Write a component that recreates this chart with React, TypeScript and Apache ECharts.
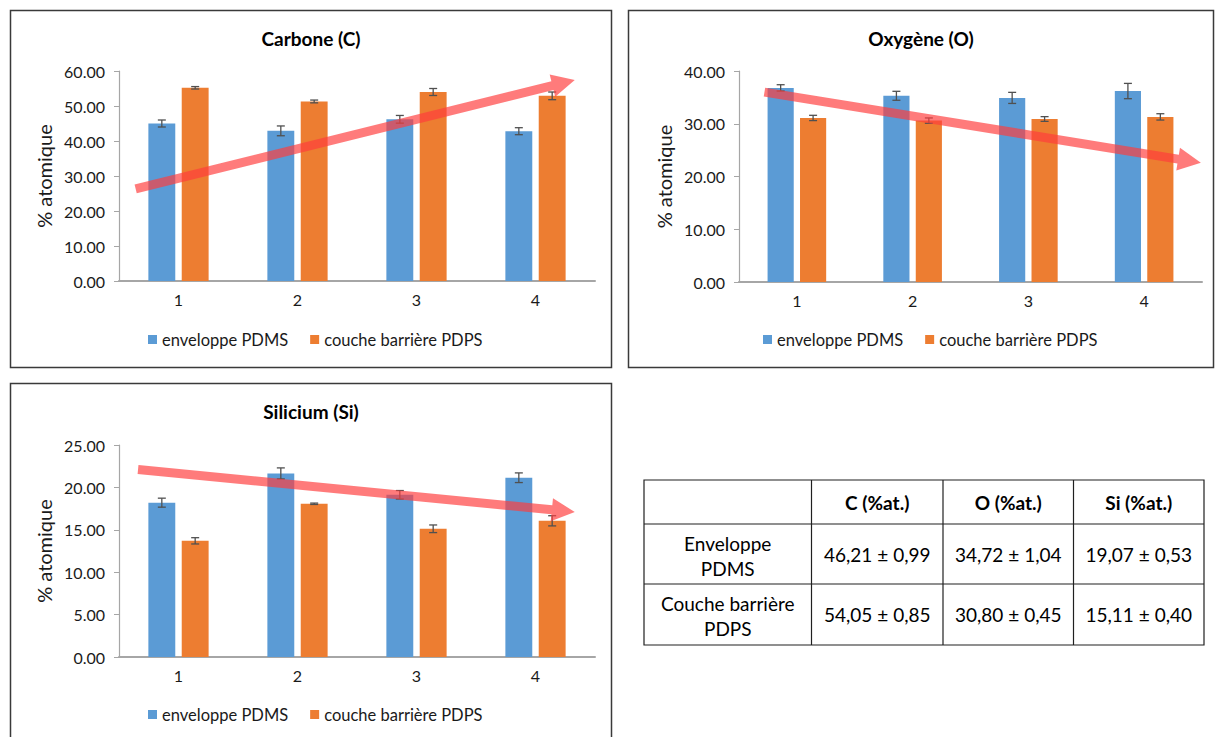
import React, { useEffect, useRef } from "react";
import * as echarts from "echarts";

const categories = ["1", "2", "3", "4"];
const seriesNames = ["enveloppe PDMS", "couche barrière PDPS"];

const carbonPDMS = [45.0, 42.9, 46.2, 42.8];
const carbonPDMSErr = [1.0, 1.4, 1.1, 1.0];
const carbonPDPS = [55.2, 51.3, 54.0, 52.9];
const carbonPDPSErr = [0.35, 0.4, 1.0, 1.1];

const oxygenPDMS = [36.8, 35.3, 34.9, 36.2];
const oxygenPDMSErr = [0.6, 0.85, 1.05, 1.45];
const oxygenPDPS = [31.1, 30.6, 30.9, 31.3];
const oxygenPDPSErr = [0.5, 0.5, 0.45, 0.6];

const siliconPDMS = [18.2, 21.65, 19.13, 21.14];
const siliconPDMSErr = [0.53, 0.65, 0.5, 0.57];
const siliconPDPS = [13.7, 18.07, 15.12, 16.06];
const siliconPDPSErr = [0.37, 0.08, 0.45, 0.6];

// trend arrows: [xStart, yStart, xTip, yTip] in category-index / value units
const carbonArrow = [-0.36, 26.3, 3.33, 57.4];
const oxygenArrow = [-0.28, 36.0, 3.49, 22.6];
const siliconArrow = [-0.34, 22.1, 3.33, 17.1];

const tableHeader = ["C (%at.)", "O (%at.)", "Si (%at.)"];
const tableRowLabels = [
  ["Enveloppe", "PDMS"],
  ["Couche barrière", "PDPS"],
];
const tableValues = [
  ["46,21 ± 0,99", "34,72 ± 1,04", "19,07 ± 0,53"],
  ["54,05 ± 0,85", "30,80 ± 0,45", "15,11 ± 0,40"],
];

const FONT = "Lato, 'Open Sans', sans-serif";
const BLUE = "#5b9bd5";
const ORANGE = "#ed7d31";
const BAR_W = 0.226;
const BAR_GAP = 0.24;
const ARROW_COLOR = "rgba(255, 60, 60, 0.68)";

const panels = [
  {
    title: "Carbone (C)",
    a: carbonPDMS, aErr: carbonPDMSErr, b: carbonPDPS, bErr: carbonPDPSErr,
    max: 60, interval: 10, arrow: carbonArrow,
    grid: { left: 119, top: 71, width: 476, height: 210 },
    box: [10, 10, 601, 357], legend: [143, 326], titleXY: [311, 38],
  },
  {
    title: "Oxygène (O)",
    a: oxygenPDMS, aErr: oxygenPDMSErr, b: oxygenPDPS, bErr: oxygenPDPSErr,
    max: 40, interval: 10, arrow: oxygenArrow,
    grid: { left: 739, top: 71, width: 463, height: 211 },
    box: [628, 10, 585, 357], legend: [758, 326], titleXY: [921, 38],
  },
  {
    title: "Silicium (Si)",
    a: siliconPDMS, aErr: siliconPDMSErr, b: siliconPDPS, bErr: siliconPDPSErr,
    max: 25, interval: 5, arrow: siliconArrow,
    grid: { left: 119, top: 445, width: 476, height: 212 },
    box: [10, 383, 601, 380], legend: [143, 701], titleXY: [311, 411],
  },
];

function errorRenderer(side: number) {
  return (params: any, api: any) => {
    const idx = api.value(0);
    const v = api.value(1);
    const e = api.value(2);
    const catW = api.size([1, 0])[0];
    const bw = catW * BAR_W;
    const gap = bw * BAR_GAP;
    const off = (gap / 2 + bw / 2) * side;
    const top = api.coord([idx, v + e]);
    const bot = api.coord([idx, v - e]);
    const x = top[0] + off;
    const cap = 4;
    const style = { stroke: "#505050", lineWidth: 1.3 };
    return {
      type: "group",
      children: [
        { type: "line", shape: { x1: x, y1: top[1], x2: x, y2: bot[1] }, style },
        { type: "line", shape: { x1: x - cap, y1: top[1], x2: x + cap, y2: top[1] }, style },
        { type: "line", shape: { x1: x - cap, y1: bot[1], x2: x + cap, y2: bot[1] }, style },
      ],
    };
  };
}

function arrowRenderer(params: any, api: any) {
  const p1 = api.coord([api.value(0), api.value(1)]);
  const p2 = api.coord([api.value(2), api.value(3)]);
  const dx = p2[0] - p1[0];
  const dy = p2[1] - p1[1];
  const len = Math.sqrt(dx * dx + dy * dy);
  const ux = dx / len, uy = dy / len;
  const nx = -uy, ny = ux;
  const hw = 4.5, headLen = 23, headW = 11.5;
  const bx = p2[0] - ux * headLen, by = p2[1] - uy * headLen;
  const points = [
    [p1[0] + nx * hw, p1[1] + ny * hw],
    [bx + nx * hw, by + ny * hw],
    [bx + nx * headW, by + ny * headW],
    [p2[0], p2[1]],
    [bx - nx * headW, by - ny * headW],
    [bx - nx * hw, by - ny * hw],
    [p1[0] - nx * hw, p1[1] - ny * hw],
  ];
  return { type: "polygon", shape: { points }, style: { fill: ARROW_COLOR } };
}

function buildOption() {
  const grids: any[] = [];
  const xAxes: any[] = [];
  const yAxes: any[] = [];
  const series: any[] = [];
  const legends: any[] = [];
  const graphics: any[] = [];

  panels.forEach((p, i) => {
    grids.push({ ...p.grid, containLabel: false });
    xAxes.push({
      type: "category",
      gridIndex: i,
      data: categories,
      axisLine: { lineStyle: { color: "#a6a6a6", width: 2 } },
      axisTick: { show: false },
      axisLabel: { color: "#1a1a1a", fontSize: 16, fontFamily: FONT, margin: 10 },
      splitLine: { show: false },
    });
    xAxes.push({ type: "value", gridIndex: i, min: -0.5, max: 3.5, show: false });
    yAxes.push({
      type: "value",
      gridIndex: i,
      min: 0,
      max: p.max,
      interval: p.interval,
      name: "% atomique",
      nameLocation: "middle",
      nameGap: 65,
      nameTextStyle: { color: "#1a1a1a", fontSize: 20, fontFamily: FONT },
      axisLine: { show: true, onZero: false, lineStyle: { color: "#a6a6a6", width: 1.2 } },
      axisTick: { show: true, length: 5, lineStyle: { color: "#a6a6a6" } },
      axisLabel: {
        color: "#1a1a1a",
        fontSize: 16,
        fontFamily: FONT,
        margin: 14,
        formatter: (v: number) => v.toFixed(2),
      },
      splitLine: { show: false },
    });
    const xCat = 2 * i;
    const xVal = 2 * i + 1;
    series.push({
      type: "bar", name: seriesNames[0], xAxisIndex: xCat, yAxisIndex: i,
      data: p.a, barWidth: BAR_W * 100 + "%", barGap: BAR_GAP * 100 + "%",
      itemStyle: { color: BLUE }, z: 2,
    });
    series.push({
      type: "bar", name: seriesNames[1], xAxisIndex: xCat, yAxisIndex: i,
      data: p.b, barWidth: BAR_W * 100 + "%", barGap: BAR_GAP * 100 + "%",
      itemStyle: { color: ORANGE }, z: 2,
    });
    series.push({
      type: "custom", xAxisIndex: xCat, yAxisIndex: i, z: 3,
      renderItem: errorRenderer(-1),
      data: p.a.map((v, k) => [k, v, p.aErr[k]]),
      encode: { x: 0, y: 1 },
    });
    series.push({
      type: "custom", xAxisIndex: xCat, yAxisIndex: i, z: 3,
      renderItem: errorRenderer(1),
      data: p.b.map((v, k) => [k, v, p.bErr[k]]),
      encode: { x: 0, y: 1 },
    });
    series.push({
      type: "custom", xAxisIndex: xVal, yAxisIndex: i, z: 5, clip: false,
      renderItem: arrowRenderer,
      data: [p.arrow],
      encode: { x: [0, 2], y: [1, 3] },
    });
    legends.push({
      left: p.legend[0], top: p.legend[1], orient: "horizontal",
      data: seriesNames, icon: "rect", itemWidth: 9, itemHeight: 9, itemGap: 22,
      textStyle: { color: "#1a1a1a", fontSize: 16.5, fontFamily: FONT },
      selectedMode: false,
    });
    graphics.push({
      type: "rect",
      shape: { x: p.box[0] + 0.5, y: p.box[1] + 0.5, width: p.box[2], height: p.box[3] },
      style: { fill: "none", stroke: "#3a3a3a", lineWidth: 1.5 },
      z: 0,
    });
    graphics.push({
      type: "text",
      x: p.titleXY[0], y: p.titleXY[1],
      style: {
        text: p.title, fill: "#000", font: `bold 19px ${FONT}`,
        textAlign: "center", textVerticalAlign: "middle",
      },
    });
  });

  // table
  const colX = [644, 811.5, 943, 1073.5, 1204];
  const rowY = [480, 524, 584, 645];
  const lineStyle = { stroke: "#202020", lineWidth: 1.2 };
  graphics.push({
    type: "rect",
    shape: { x: colX[0], y: rowY[0], width: colX[4] - colX[0], height: rowY[3] - rowY[0] },
    style: { fill: "#fff", ...lineStyle },
  });
  colX.slice(1, 4).forEach((x) =>
    graphics.push({ type: "line", shape: { x1: x, y1: rowY[0], x2: x, y2: rowY[3] }, style: lineStyle })
  );
  rowY.slice(1, 3).forEach((y) =>
    graphics.push({ type: "line", shape: { x1: colX[0], y1: y, x2: colX[4], y2: y }, style: lineStyle })
  );
  tableHeader.forEach((h, c) =>
    graphics.push({
      type: "text", x: (colX[c + 1] + colX[c + 2]) / 2, y: (rowY[0] + rowY[1]) / 2,
      style: { text: h, fill: "#000", font: `bold 19px ${FONT}`, textAlign: "center", textVerticalAlign: "middle" },
    })
  );
  tableRowLabels.forEach((lines, r) => {
    const cy = (rowY[r + 1] + rowY[r + 2]) / 2;
    lines.forEach((t, li) =>
      graphics.push({
        type: "text", x: (colX[0] + colX[1]) / 2, y: cy + (li === 0 ? -11 : 14),
        style: { text: t, fill: "#000", font: `19px ${FONT}`, textAlign: "center", textVerticalAlign: "middle" },
      })
    );
    tableValues[r].forEach((v, c) =>
      graphics.push({
        type: "text", x: (colX[c + 1] + colX[c + 2]) / 2, y: cy,
        style: { text: v, fill: "#000", font: `19px ${FONT}`, textAlign: "center", textVerticalAlign: "middle" },
      })
    );
  });

  return {
    animation: false,
    backgroundColor: "#ffffff",
    textStyle: { fontFamily: FONT },
    grid: grids,
    xAxis: xAxes,
    yAxis: yAxes,
    legend: legends,
    series,
    graphic: graphics,
  };
}

export default function App() {
  const ref = useRef<HTMLDivElement>(null);
  useEffect(() => {
    if (!ref.current) return;
    const chart = echarts.init(ref.current, undefined, { renderer: "svg" });
    chart.setOption(buildOption() as any);
    return () => chart.dispose();
  }, []);
  return (
    <div
      ref={ref}
      style={{ position: "absolute", left: 0, top: 0, width: 1215, height: 737, background: "#fff" }}
    />
  );
}
